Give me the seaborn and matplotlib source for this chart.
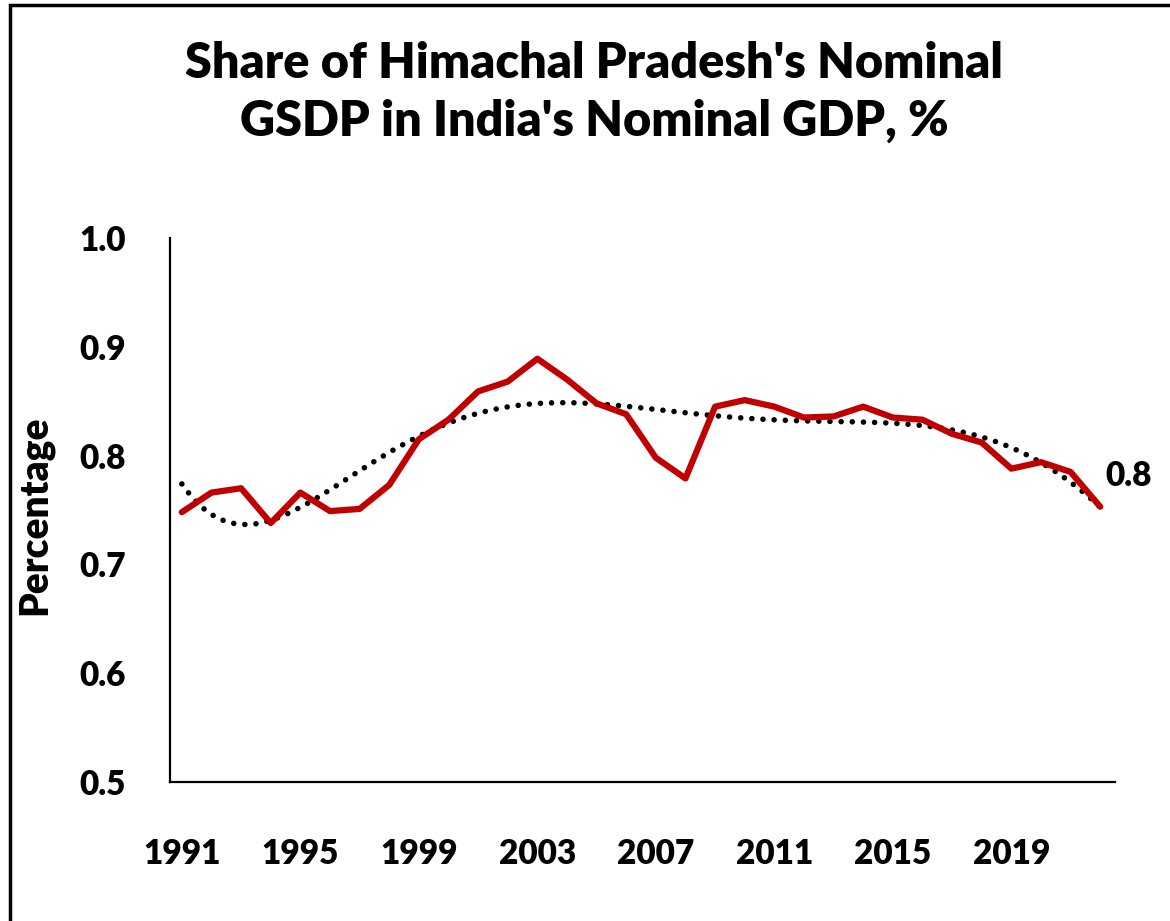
import numpy as np
import pandas as pd
import matplotlib
matplotlib.use("Agg")
import matplotlib.pyplot as plt
import seaborn as sns

# Datos
years = list(range(1991, 2023))
share = [0.748, 0.766, 0.770, 0.738, 0.766, 0.749, 0.751, 0.773, 0.815, 0.833,
         0.859, 0.868, 0.889, 0.870, 0.848, 0.838, 0.798, 0.779, 0.845, 0.851,
         0.845, 0.835, 0.836, 0.845, 0.835, 0.833, 0.820, 0.812, 0.788, 0.794,
         0.785, 0.753]
tick_years = [1991, 1995, 1999, 2003, 2007, 2011, 2015, 2019]
y_ticks = [0.5, 0.6, 0.7, 0.8, 0.9, 1.0]
end_label = "0.8"

df = pd.DataFrame({"year": years, "share": share})
df["t"] = df["year"] - 1990

sns.set_style("white")
plt.rcParams["font.family"] = ["Lato", "DejaVu Sans"]
plt.rcParams["font.weight"] = "heavy"
plt.rcParams["text.color"] = "black"
plt.rcParams["xtick.color"] = "black"
plt.rcParams["ytick.color"] = "black"
plt.rcParams["axes.labelcolor"] = "black"

fig = plt.figure(figsize=(11.7, 9.21), dpi=100)
ax = fig.add_axes([0.1453, 0.1509, 0.8077, 0.5907])

# linea de tendencia polinomica (como en Excel)
sns.regplot(data=df, x="t", y="share", order=6, ci=None, scatter=False, ax=ax,
            line_kws=dict(color="black", lw=4, linestyle=(0, (0.01, 2.0)),
                          dash_capstyle="round"))
sns.lineplot(data=df, x="t", y="share", color="#C00000", lw=4.5, ax=ax)

ax.set_xlim(0.6, 32.5)
ax.set_ylim(0.5, 1.0)
ax.set_xticks([y - 1990 for y in tick_years])
ax.set_xticklabels([str(y) for y in tick_years])
ax.set_yticks(y_ticks)
ax.set_yticklabels([f"{v:.1f}" for v in y_ticks])
ax.tick_params(axis="both", length=0, labelsize=24)
ax.tick_params(axis="x", pad=40)
ax.tick_params(axis="y", pad=32)
ax.set_xlabel("")
ax.set_ylabel("Percentage", fontsize=28, fontweight="heavy")
ax.yaxis.set_label_coords(-0.124, 0.49)
for s in ["top", "right"]:
    ax.spines[s].set_visible(False)
for s in ["left", "bottom"]:
    ax.spines[s].set_color("black")
    ax.spines[s].set_linewidth(1.6)

ax.annotate(end_label, xy=(df["t"].iloc[-1], df["share"].iloc[-1]),
            xytext=(4, 22), textcoords="offset points", fontsize=24,
            fontweight="heavy", ha="left", va="center")

fig.text(0.508, 0.90, "Share of Himachal Pradesh's Nominal\nGSDP in India's Nominal GDP, %",
         ha="center", va="center", fontsize=35, fontweight="heavy", linespacing=1.35)

# marco del grafico
fig.patches.append(plt.Rectangle((10 / 1170, -0.1), 1.2, 1.1 - 5 / 921,
                                 transform=fig.transFigure, fill=False,
                                 edgecolor="black", lw=2.5))

fig.savefig("out.png", dpi=100)
